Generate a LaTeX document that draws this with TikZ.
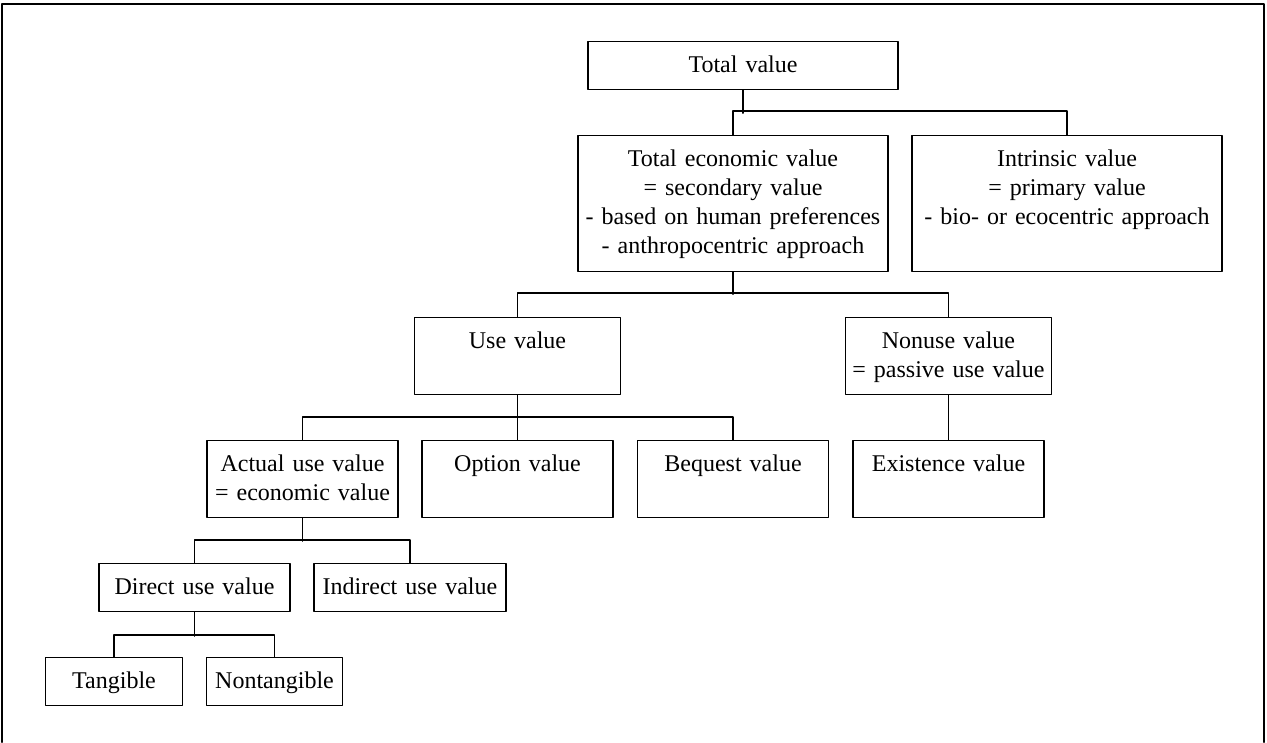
\documentclass[tikz,border=0pt]{standalone}
\usepackage{fontspec}
\setmainfont{Liberation Serif}
\usetikzlibrary{positioning}

\tikzset{
  vbox/.style={draw,line width=1.2pt,align=center,inner sep=0pt,anchor=north,
    text height=31pt,font=\fontsize{24}{29}\selectfont},
  tallbox/.style={vbox,text width=310pt,text depth=105pt},
  midbox/.style={vbox,text width=#1,text depth=46pt},
  lowbox/.style={vbox,text width=#1,text depth=17pt}
}

\begin{document}
\begin{tikzpicture}[line cap=round,line join=round,x=1pt,y=-1pt]
\useasboundingbox (0,0) rectangle (1267,742);
\draw [line width=2pt] (2,742)--(2,4)--(1264,4)--(1264,742);
\node[lowbox=310pt] (tv) at (743,41) {Total value};
\node[tallbox] (tev) at (733,135) {Total economic value\\= secondary value\\- based on human preferences\\- anthropocentric approach};
\node[tallbox] (intr) at (1067,135) {Intrinsic value\\= primary value\\- bio- or ecocentric approach};
\node[midbox=206pt] (use) at (517.5,317) {Use value};
\node[midbox=206pt] (nonuse) at (948.5,317) {Nonuse value\\= passive use value};
\node[midbox=191pt] (act) at (302.5,440) {Actual use value\\= economic value};
\node[midbox=191pt] (opt) at (517.5,440) {Option value};
\node[midbox=191pt] (beq) at (733,440) {Bequest value};
\node[midbox=191pt] (exist) at (948.5,440) {Existence value};
\node[lowbox=191pt] (dir) at (194.5,563) {Direct use value};
\node[lowbox=192pt] (indir) at (410,563) {Indirect use value};
\node[lowbox=137pt] (tang) at (114,657) {Tangible};
\node[lowbox=136pt] (ntang) at (274.5,657) {Nontangible};
\draw [line width=1.2pt] (tv.south)--++(0,23);
\draw [line width=1.2pt] (tev.north)--++(0,-24)-|(intr.north);
\draw [line width=1.2pt] (tev.south)--++(0,22);
\draw [line width=1.2pt] (use.north)--++(0,-24)-|(nonuse.north);
\draw [line width=1.2pt] (use.south)--(opt.north);
\draw [line width=1.2pt] (act.north)--++(0,-23)-|(beq.north);
\draw [line width=1.2pt] (nonuse.south)--(exist.north);
\draw [line width=1.2pt] (act.south)--++(0,23);
\draw [line width=1.2pt] (dir.north)--++(0,-23)-|(indir.north);
\draw [line width=1.2pt] (dir.south)--++(0,24);
\draw [line width=1.2pt] (tang.north)--++(0,-22)-|(ntang.north);
\end{tikzpicture}
\end{document}
